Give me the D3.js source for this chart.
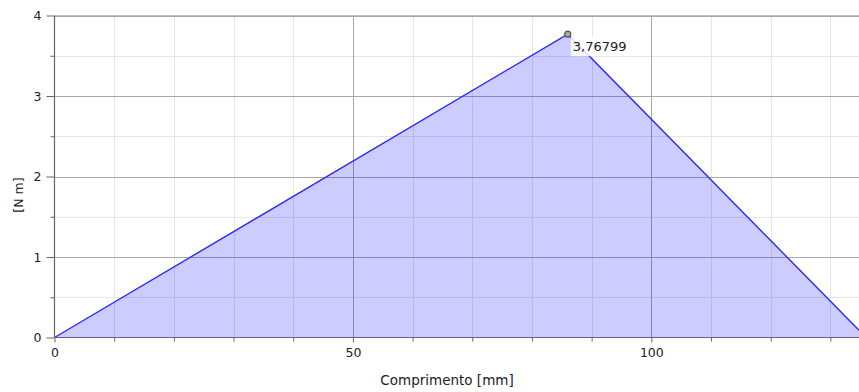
<!DOCTYPE html>
<html>
<head>
<meta charset="utf-8">
<script src="https://cdn.jsdelivr.net/npm/d3@7"></script>
<style>
  html, body { margin: 0; padding: 0; background: #ffffff; }
  svg { display: block; }
  text { font-family: "DejaVu Sans", sans-serif; fill: #222; }
</style>
</head>
<body>
<svg id="chart" width="859" height="392"></svg>
<script>
// Bending moment along the beam
const lengths = [0, 86, 134.8];          // mm
const moments = [0, 3.76799, 0.09];      // N m
const peakIndex = 1;
const peakLabel = "3,76799";

const xMajorTicks = [0, 50, 100];
const xMinorTicks = [10, 20, 30, 40, 60, 70, 80, 90, 110, 120, 130];
const yMajorTicks = [0, 1, 2, 3, 4];
const yMinorTicks = [0.5, 1.5, 2.5, 3.5];

const xTitle = "Comprimento [mm]";
const yTitle = "[N m]";

const margin = { left: 54.5, right: 0, top: 15.5, bottom: 54.5 };
const width = 859, height = 392;

const svg = d3.select("#chart");
const x = d3.scaleLinear().domain([0, 134.8]).range([margin.left, width - margin.right]);
const y = d3.scaleLinear().domain([0, 4]).range([height - margin.bottom, margin.top]);

const data = lengths.map((d, i) => ({ x: d, y: moments[i] }));

// grid
const grid = svg.append("g");
grid.selectAll(".vminor").data(xMinorTicks).join("line")
  .attr("x1", d => Math.round(x(d)) + 0.5).attr("x2", d => Math.round(x(d)) + 0.5)
  .attr("y1", y(4)).attr("y2", y(0))
  .attr("stroke", "#e6e6e6").attr("stroke-width", 1);
grid.selectAll(".hminor").data(yMinorTicks).join("line")
  .attr("x1", x(0)).attr("x2", width)
  .attr("y1", d => Math.round(y(d)) + 0.5).attr("y2", d => Math.round(y(d)) + 0.5)
  .attr("stroke", "#e6e6e6").attr("stroke-width", 1);
grid.selectAll(".vmajor").data(xMajorTicks.slice(1)).join("line")
  .attr("x1", d => Math.round(x(d)) + 0.5).attr("x2", d => Math.round(x(d)) + 0.5)
  .attr("y1", y(4)).attr("y2", y(0))
  .attr("stroke", "#a8a8a8").attr("stroke-width", 1);
grid.selectAll(".hmajor").data(yMajorTicks.slice(1)).join("line")
  .attr("x1", x(0)).attr("x2", width)
  .attr("y1", d => Math.round(y(d)) + 0.5).attr("y2", d => Math.round(y(d)) + 0.5)
  .attr("stroke", "#a8a8a8").attr("stroke-width", 1);

// area and line
svg.append("path").datum(data)
  .attr("d", d3.area().x(d => x(d.x)).y0(y(0)).y1(d => y(d.y)))
  .attr("fill", "rgba(0,0,255,0.2)");
svg.append("path").datum(data)
  .attr("d", d3.line().x(d => x(d.x)).y(d => y(d.y)))
  .attr("fill", "none").attr("stroke", "#2a2aff").attr("stroke-width", 1.4);

// axes
const xAxis = svg.append("g").attr("transform", `translate(0,${y(0)})`)
  .call(d3.axisBottom(x).tickValues(xMajorTicks).tickSize(5).tickPadding(6).tickFormat(d3.format("d")));
const xMinor = svg.append("g").attr("transform", `translate(0,${y(0)})`)
  .call(d3.axisBottom(x).tickValues(xMinorTicks).tickSize(4).tickFormat(""));
const yAxis = svg.append("g").attr("transform", `translate(${x(0)},0)`)
  .call(d3.axisLeft(y).tickValues(yMajorTicks).tickSize(8).tickPadding(5).tickFormat(d3.format("d")));
const yMinor = svg.append("g").attr("transform", `translate(${x(0)},0)`)
  .call(d3.axisLeft(y).tickValues(yMinorTicks).tickSize(4).tickFormat(""));

[xAxis, xMinor, yAxis, yMinor].forEach(g => {
  g.selectAll("path.domain").attr("stroke", "#666").attr("stroke-width", 1.2);
  g.selectAll(".tick line").attr("stroke", "#666");
  g.selectAll(".tick text").attr("font-size", 12.5).attr("fill", "#222")
    .attr("font-family", "DejaVu Sans, sans-serif");
});
xMinor.select("path.domain").remove();
yMinor.select("path.domain").remove();
xAxis.select("path.domain").attr("d", `M${x(0)},0H${width}`);
yAxis.select("path.domain").attr("d", `M0,${y(4)}V${y(0)}`);

// top border
svg.append("line").attr("x1", x(0)).attr("x2", width)
  .attr("y1", y(4)).attr("y2", y(4)).attr("stroke", "#bdbdbd");

// titles
svg.append("text").attr("x", 447).attr("y", 385)
  .attr("text-anchor", "middle").attr("font-size", 13.5).text(xTitle);
svg.append("text").attr("transform", `translate(23,195) rotate(-90)`)
  .attr("text-anchor", "middle").attr("font-size", 12.5).text(yTitle);

// peak marker and label
const peak = data[peakIndex];
const lbl = svg.append("g").attr("transform", `translate(${x(peak.x) + 3},${y(peak.y) + 2})`);
lbl.append("rect").attr("width", 59).attr("height", 20).attr("fill", "rgba(255,255,255,0.85)");
lbl.append("text").attr("x", 2).attr("y", 15).attr("font-size", 13).text(peakLabel);
svg.append("circle").attr("cx", x(peak.x)).attr("cy", y(peak.y)).attr("r", 3)
  .attr("fill", "#aaaaaa").attr("stroke", "#555").attr("stroke-width", 1.2);
</script>
</body>
</html>
